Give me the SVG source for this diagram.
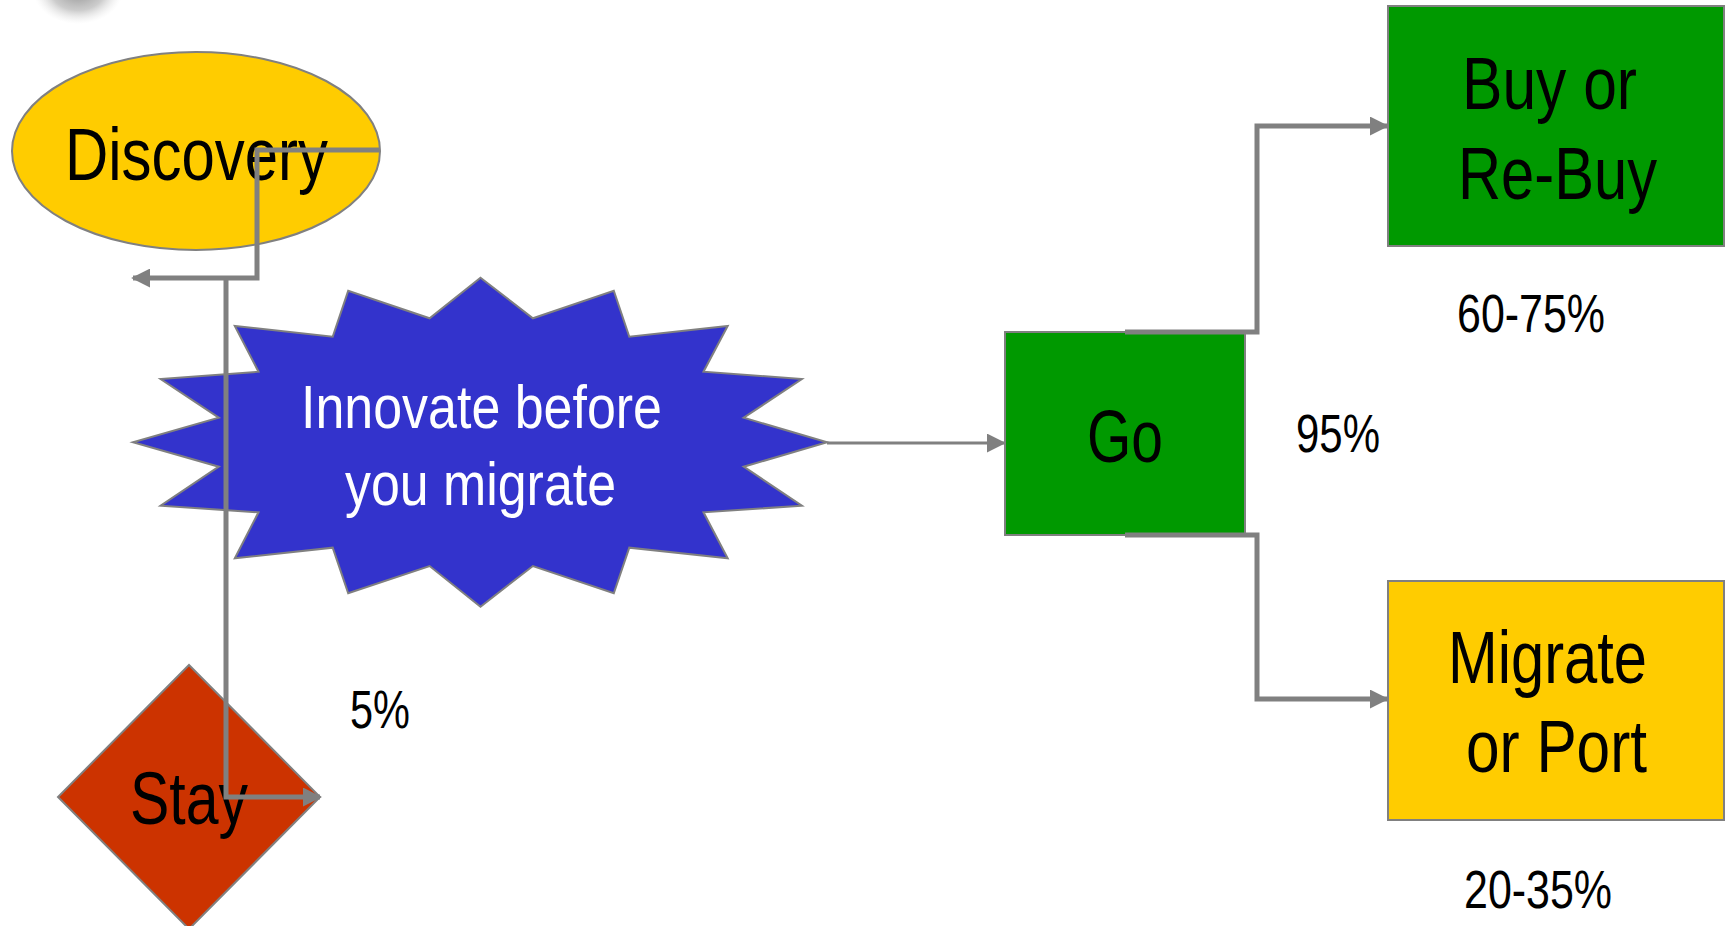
<svg xmlns="http://www.w3.org/2000/svg" width="1725" height="926" viewBox="0 0 1725 926">
<style>
  .lbl { font-family: "Liberation Sans Narrow", "Liberation Sans", Arial, sans-serif; fill: #000; }
  .big { font-size: 74px; }
  .pct { font-size: 53px; }
  .wht { fill: #fff; font-size: 62px; }
  .node { stroke: #808080; stroke-width: 2; }
  .conn { fill: none; stroke: #808080; stroke-width: 5; }
</style>
<defs>
  <marker id="arr" viewBox="0 0 10 10" refX="9" refY="5" markerWidth="19" markerHeight="19" markerUnits="userSpaceOnUse" orient="auto">
    <path d="M0,0 L10,5 L0,10 z" fill="#808080"/>
  </marker>
  <radialGradient id="blob" cx="0.5" cy="0.5" r="0.5">
    <stop offset="0" stop-color="#888" stop-opacity="0.95"/>
    <stop offset="0.6" stop-color="#aaa" stop-opacity="0.6"/>
    <stop offset="1" stop-color="#ddd" stop-opacity="0"/>
  </radialGradient>
</defs>
<rect width="1725" height="926" fill="#fff"/>
<ellipse cx="78" cy="-10" rx="45" ry="34" fill="url(#blob)"/>

<g id="discovery">
  <ellipse class="node" cx="196" cy="151" rx="184" ry="99" fill="#FFCC00"/>
  <text class="lbl big" x="65" y="180" textLength="263" lengthAdjust="spacingAndGlyphs">Discovery</text>
</g>

<g id="innovate">
  <polygon class="node" fill="#3333CC" points="480.5,277.7 532.9,318.3 613.8,290.7 629.3,336.7 727.7,326 703.5,371.7 801.9,379 743.7,417.7 827.1,442.3 743.7,466.7 801.9,505.7 703.5,512.3 727.7,558.3 629.3,547.7 613.8,593.3 532.9,566 480.5,606.7 429.6,566 348.2,593.3 332.7,547.7 234.8,558.3 258.5,512.3 160.6,505.7 218.8,466.7 133,442.3 218.8,417.7 160.6,379 258.5,371.7 234.8,326 332.7,336.7 348.2,290.7 429.6,318.3"/>
  <text class="lbl wht" x="301" y="428" textLength="361" lengthAdjust="spacingAndGlyphs">Innovate before</text>
  <text class="lbl wht" x="345" y="505" textLength="271" lengthAdjust="spacingAndGlyphs">you migrate</text>
</g>

<g id="stay">
  <polygon class="node" fill="#CC3300" points="189,665 320,797 189,929 58,797"/>
  <text class="lbl big" x="130" y="824" textLength="118" lengthAdjust="spacingAndGlyphs">Stay</text>
</g>

<g id="go">
  <rect class="node" x="1005" y="332" width="240" height="203" fill="#009900"/>
  <text class="lbl big" x="1087" y="462" textLength="76" lengthAdjust="spacingAndGlyphs">Go</text>
</g>

<g id="buy">
  <rect class="node" x="1388" y="6" width="336" height="240" fill="#009900"/>
  <text class="lbl big" x="1462" y="109" textLength="175" lengthAdjust="spacingAndGlyphs">Buy or</text>
  <text class="lbl big" x="1458" y="199" textLength="199" lengthAdjust="spacingAndGlyphs">Re-Buy</text>
</g>

<g id="migrate">
  <rect class="node" x="1388" y="581" width="336" height="239" fill="#FFCC00"/>
  <text class="lbl big" x="1448" y="683" textLength="199" lengthAdjust="spacingAndGlyphs">Migrate</text>
  <text class="lbl big" x="1466" y="772" textLength="181" lengthAdjust="spacingAndGlyphs">or Port</text>
</g>

<g id="labels">
  <text class="lbl pct" x="350" y="728" textLength="60" lengthAdjust="spacingAndGlyphs">5%</text>
  <text class="lbl pct" x="1296" y="452" textLength="84" lengthAdjust="spacingAndGlyphs">95%</text>
  <text class="lbl pct" x="1457" y="332" textLength="148" lengthAdjust="spacingAndGlyphs">60-75%</text>
  <text class="lbl pct" x="1464" y="908" textLength="148" lengthAdjust="spacingAndGlyphs">20-35%</text>
</g>

<g id="connectors">
  <path class="conn" d="M380,150 H257 V278 H133" marker-end="url(#arr)"/>
  <path class="conn" d="M226,280 V797 H320" marker-end="url(#arr)"/>
  <path class="conn" style="stroke-width:3" d="M827,443 H1004" marker-end="url(#arr)"/>
  <path class="conn" d="M1125,332 H1257 V126 H1387" marker-end="url(#arr)"/>
  <path class="conn" d="M1125,535 H1257 V699 H1387" marker-end="url(#arr)"/>
</g>
</svg>
